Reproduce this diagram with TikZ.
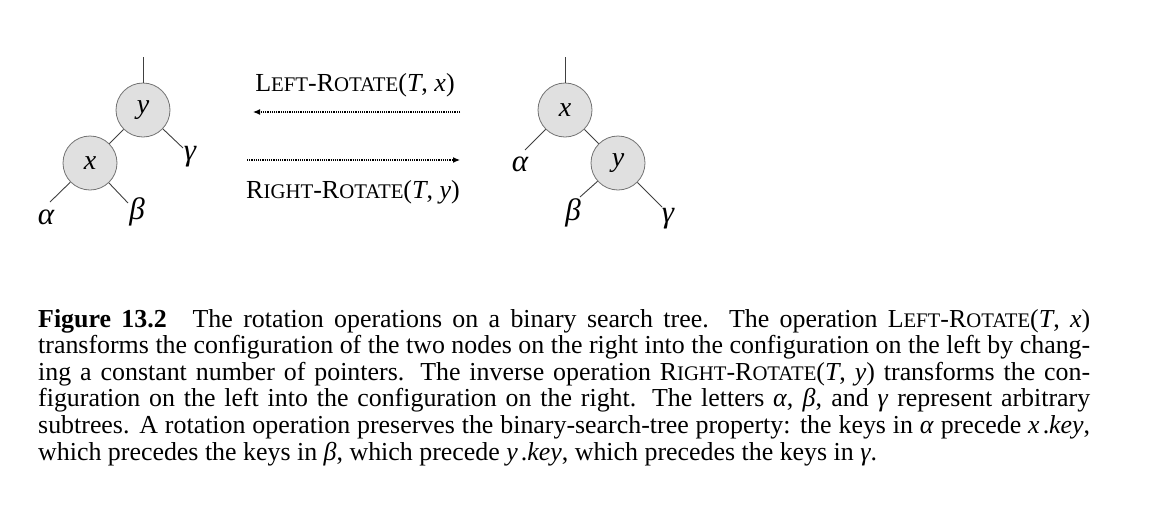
\documentclass[tikz,border=0pt]{standalone}
\usepackage{fontspec}
\setmainfont{Liberation Serif}
\usetikzlibrary{arrows.meta}
\newcommand\smc[1]{\scalebox{0.8}{#1}}
\newcommand\capline[1]{\makebox[1052pt][s]{#1}}
\begin{document}
\begin{tikzpicture}[x=1pt,y=-1pt,
  tnode/.style={circle, draw=black!55, fill=black!12, line width=0.8pt, minimum size=54pt, inner sep=0pt, font=\fontsize{28}{28}\selectfont\itshape},
  leaf/.style={inner sep=0pt, font=\fontsize{31}{31}\selectfont\itshape},
  edge/.style={draw=black!75, line width=0.9pt},
  lab/.style={inner sep=0pt, font=\fontsize{26}{28}\selectfont},
  rot/.style={densely dotted, line width=1.2pt, -{Latex[length=7pt,width=6pt]}}]
\useasboundingbox (0,0) rectangle (1160,504);
\fill[white] (0,0) rectangle (1160,504);
% left tree
\node[tnode] (ly) at (143,110) {y};
\node[tnode] (lx) at (90,163) {x};
\coordinate (lytop) at (143,57);
\coordinate (lge) at (183,148);
\coordinate (lae) at (50,202);
\coordinate (lbe) at (128,203);
\draw[edge] (lytop) -- (ly);
\draw[edge] (ly) -- (lx);
\draw[edge] (ly) -- (lge);
\draw[edge] (lx) -- (lae);
\draw[edge] (lx) -- (lbe);
\node[leaf] (lg) at (190,157) {γ};
\node[leaf] (la) at (46,217) {α};
\node[leaf] (lb) at (137,212) {β};
% right tree
\node[tnode] (rx) at (565,110) {x};
\node[tnode] (ry) at (618,163) {y};
\coordinate (rxtop) at (565,57);
\coordinate (rae) at (525,150);
\coordinate (rbe) at (580,197);
\coordinate (rge) at (662,207);
\draw[edge] (rxtop) -- (rx);
\draw[edge] (rx) -- (ry);
\draw[edge] (rx) -- (rae);
\draw[edge] (ry) -- (rbe);
\draw[edge] (ry) -- (rge);
\node[leaf] (ra) at (520,164) {α};
\node[leaf] (rb) at (573,213) {β};
\node[leaf] (rg) at (668,219) {γ};
% rotation arrows
\node[lab] (lrot) at (355,85) {L\smc{EFT}-R\smc{OTATE}(\textit{T}, \textit{x})};
\node[lab] (rrot) at (353,192) {R\smc{IGHT}-R\smc{OTATE}(\textit{T}, \textit{y})};
\coordinate (a1s) at (460,112);
\coordinate (a1e) at (253,112);
\coordinate (a2s) at (247,160);
\coordinate (a2e) at (460,160);
\draw[rot] (a1s) -- (a1e);
\draw[rot] (a2s) -- (a2e);
% caption
\node[anchor=north west, inner sep=0pt, align=left, font=\fontsize{25.9}{26.6}\selectfont] (cap) at (38,309) {%
\capline{\textbf{Figure 13.2}\quad The rotation operations on a binary search tree. The operation L\smc{EFT}-R\smc{OTATE}(\textit{T}, \textit{x})}\\
\capline{transforms the configuration of the two nodes on the right into the configuration on the left by chang-}\\
\capline{ing a constant number of pointers. The inverse operation R\smc{IGHT}-R\smc{OTATE}(\textit{T}, \textit{y}) transforms the con-}\\
\capline{figuration on the left into the configuration on the right. The letters \textit{α}, \textit{β}, and \textit{γ} represent arbitrary}\\
\capline{subtrees. A rotation operation preserves the binary-search-tree property: the keys in \textit{α} precede \textit{x}\hspace{0.12em}.\textit{key},}\\
which precedes the keys in \textit{β}, which precede \textit{y}\hspace{0.12em}.\textit{key}, which precedes the keys in \textit{γ}.};
\end{tikzpicture}
\end{document}
